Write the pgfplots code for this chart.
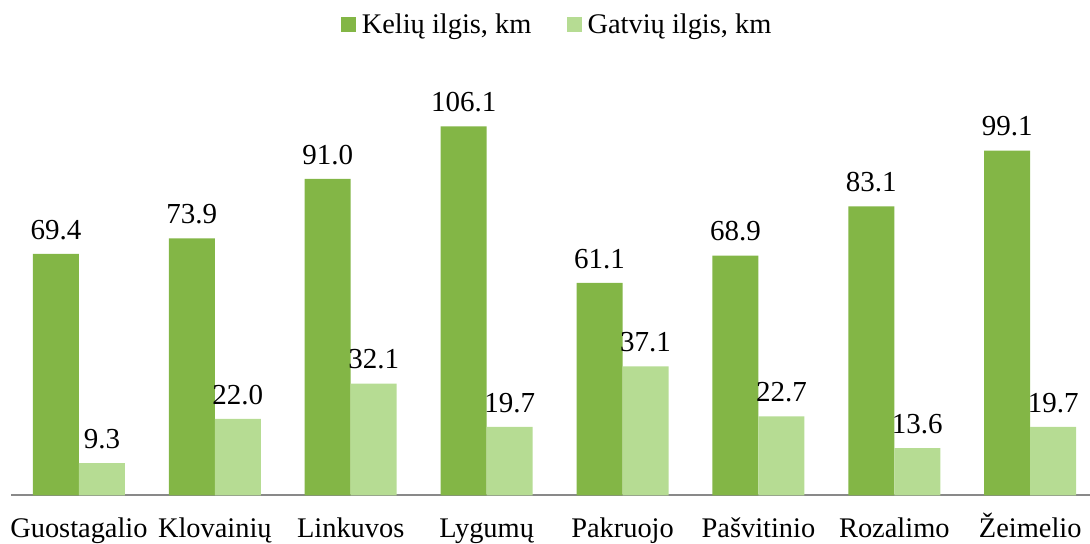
\documentclass[border=0pt]{standalone}
\usepackage{pgfplots}
\pgfplotsset{compat=1.18}
\usepackage{fontspec}
\setmainfont{Liberation Serif}
\definecolor{kel}{HTML}{83B646}
\definecolor{gat}{HTML}{B6DC93}
\definecolor{axgray}{HTML}{898989}
\begin{document}
\begin{tikzpicture}
\begin{axis}[
  scale only axis,
  width=539.5pt, height=208.7pt,
  ybar=0pt, bar width=23pt,
  xmin=-0.5, xmax=7.44, ymin=0, ymax=120,
  enlargelimits=false,
  axis x line*=bottom, axis y line=none,
  x axis line style={draw=axgray, line width=1pt},
  xtick=data,
  xticklabels={Guostagalio,Klovainių,Linkuvos,Lygumų,Pakruojo,Pašvitinio,Rozalimo,Žeimelio},
  major tick length=0pt,
  xtick style={draw=none},
  ytick=\empty,
  font=\fontsize{14.2}{16}\selectfont,
  xticklabel style={font=\fontsize{14.2}{16}\selectfont, inner sep=0pt, anchor=base, yshift=-21pt},
  /pgf/number format/assume math mode=true,
  nodes near coords,
  nodes near coords style={font=\fontsize{14.5}{16}\selectfont, anchor=south, inner sep=0pt, yshift=7pt,
    /pgf/number format/fixed, /pgf/number format/fixed zerofill, /pgf/number format/precision=1},
  legend style={draw=none, fill=none, legend columns=2, at={(0.508,1.127)}, anchor=center,
    font=\fontsize{14.2}{16}\selectfont,
    /tikz/every even column/.append style={column sep=15pt},
    nodes={inner sep=2.8pt}},
  legend image code/.code={\fill[#1] (0pt,-3.75pt) rectangle (7.5pt,3.75pt);},
  clip=false,
]
\addplot[fill=kel, draw=none] coordinates {(0,69.4) (1,73.9) (2,91.0) (3,106.1) (4,61.1) (5,68.9) (6,83.1) (7,99.1)};
\addplot[fill=gat, draw=none] coordinates {(0,9.3) (1,22.0) (2,32.1) (3,19.7) (4,37.1) (5,22.7) (6,13.6) (7,19.7)};
\legend{Kelių ilgis{,} km, Gatvių ilgis{,} km}
\end{axis}
\pgfresetboundingbox
\path ([shift={(-5.5pt,-24pt)}]current axis.south west) rectangle ([shift={(0pt,39pt)}]current axis.north east);
\end{tikzpicture}
\end{document}
